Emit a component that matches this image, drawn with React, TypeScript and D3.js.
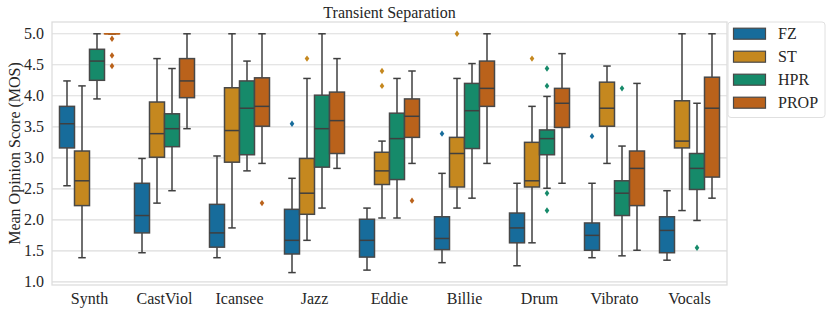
import React from 'react';
import * as d3 from 'd3';

// categories and series
const categories = ['Synth', 'CastViol', 'Icansee', 'Jazz', 'Eddie', 'Billie', 'Drum', 'Vibrato', 'Vocals'];
const seriesNames = ['FZ', 'ST', 'HPR', 'PROP'];
const seriesColors = ['#176c9b', '#c5881f', '#168a6a', '#ba621b'];

// [lower whisker, q1, median, q3, upper whisker] per category
const FZ = [
  [2.55, 3.16, 3.55, 3.83, 4.24],
  [1.47, 1.79, 2.07, 2.59, 2.99],
  [1.39, 1.56, 1.79, 2.25, 3.03],
  [1.15, 1.45, 1.67, 2.17, 2.67],
  [1.19, 1.40, 1.67, 2.01, 2.19],
  [1.31, 1.52, 1.70, 2.05, 2.75],
  [1.26, 1.63, 1.87, 2.11, 2.59],
  [1.39, 1.51, 1.75, 1.95, 2.59],
  [1.35, 1.47, 1.83, 2.05, 2.47],
];
const ST = [
  [1.39, 2.23, 2.63, 3.11, 4.16],
  [2.27, 3.01, 3.39, 3.90, 4.60],
  [1.87, 2.93, 3.44, 4.13, 5.0],
  [1.67, 2.09, 2.43, 2.99, 4.28],
  [2.03, 2.57, 2.79, 3.09, 3.27],
  [2.19, 2.53, 3.07, 3.33, 4.28],
  [1.63, 2.53, 2.63, 3.25, 3.83],
  [2.91, 3.51, 3.80, 4.22, 4.48],
  [2.15, 3.16, 3.27, 3.92, 5.0],
];
const HPR = [
  [3.95, 4.25, 4.56, 4.75, 5.0],
  [2.47, 3.18, 3.47, 3.71, 4.44],
  [2.79, 3.05, 3.80, 4.24, 4.56],
  [2.19, 2.85, 3.47, 4.01, 5.0],
  [2.03, 2.65, 3.31, 3.72, 4.28],
  [2.35, 3.15, 3.76, 4.20, 4.52],
  [2.51, 3.05, 3.31, 3.45, 3.99],
  [1.42, 2.07, 2.43, 2.63, 3.19],
  [1.99, 2.49, 2.83, 3.07, 3.88],
];
const PROP = [
  [5.0, 5.0, 5.0, 5.0, 5.0],
  [3.47, 3.97, 4.24, 4.60, 5.0],
  [2.91, 3.51, 3.83, 4.29, 5.0],
  [2.83, 3.07, 3.60, 4.06, 4.60],
  [2.91, 3.33, 3.67, 3.95, 4.40],
  [2.91, 3.83, 4.12, 4.56, 5.0],
  [2.59, 3.49, 3.88, 4.12, 4.68],
  [1.51, 2.23, 2.83, 3.11, 4.20],
  [2.35, 2.69, 3.80, 4.30, 5.0],
];

// outliers per category
const FZout = [[], [], [], [3.55], [], [3.39], [], [3.35], []];
const STout = [[], [], [], [4.60], [4.40, 4.16], [5.0], [4.60], [], []];
const HPRout = [[], [], [], [], [], [], [4.44, 4.16, 2.43, 2.15], [4.12], [1.55]];
const PROPout = [[4.92, 4.65, 4.48], [], [2.27], [], [2.31], [], [], [], []];

const yTicks = [1.0, 1.5, 2.0, 2.5, 3.0, 3.5, 4.0, 4.5, 5.0];

const stats = [FZ, ST, HPR, PROP];
const outliers = [FZout, STout, HPRout, PROPout];

const W = 831;
const H = 313;
const left = 52, right = 727, top = 22, bottom = 285;
const font = '"Liberation Serif", "Times New Roman", serif';
const lineColor = '#3f3f3f';
const fs = 16;

export default function App() {
  const x = d3.scaleBand().domain(categories).range([left, right]);
  const inner = d3.scaleBand().domain(seriesNames).range([0, x.bandwidth() * 0.8]);
  const y = d3.scaleLinear().domain([0.95, 5.19]).range([bottom, top]);
  const bw = inner.bandwidth();
  const capW = bw * 0.5;
  const off = x.bandwidth() * 0.1;

  return (
    <svg width={W} height={H} style={{ position: 'absolute', left: 0, top: 0, background: '#fff' }} fontFamily={font}>
      <rect x={left} y={top} width={right - left} height={bottom - top} fill="#fff" stroke="#dcdcdc" strokeWidth={1.25} />
      {yTicks.map(t => (
        <g key={t}>
          <line x1={left} x2={right} y1={y(t)} y2={y(t)} stroke="#dcdcdc" strokeWidth={1.1} />
          <text x={44} y={y(t)} dy="0.33em" textAnchor="end" fontSize={fs} fill="#262626">{d3.format('.1f')(t)}</text>
        </g>
      ))}
      {categories.map((c, ci) => (
        <g key={c}>
          {seriesNames.map((s, si) => {
            const [lo, q1, med, q3, hi] = stats[si][ci];
            const x0 = (x(c) as number) + off + (inner(s) as number);
            const cx = x0 + bw / 2;
            return (
              <g key={s}>
                <line x1={cx} x2={cx} y1={y(q3)} y2={y(hi)} stroke={lineColor} strokeWidth={1.5} />
                <line x1={cx} x2={cx} y1={y(q1)} y2={y(lo)} stroke={lineColor} strokeWidth={1.5} />
                <line x1={cx - capW / 2} x2={cx + capW / 2} y1={y(hi)} y2={y(hi)} stroke={lineColor} strokeWidth={1.5} />
                <line x1={cx - capW / 2} x2={cx + capW / 2} y1={y(lo)} y2={y(lo)} stroke={lineColor} strokeWidth={1.5} />
                <rect x={x0} y={y(q3)} width={bw} height={Math.max(0.01, y(q1) - y(q3))}
                  fill={seriesColors[si]} stroke={q1 === q3 ? seriesColors[si] : '#484848'} strokeWidth={1.5} />
                <line x1={x0} x2={x0 + bw} y1={y(med)} y2={y(med)} stroke={q1 === q3 ? seriesColors[si] : lineColor} strokeWidth={1.5} />
                {outliers[si][ci].map((o, oi) => (
                  <path key={oi} d={`M${cx},${y(o) - 3.2}L${cx + 2.3},${y(o)}L${cx},${y(o) + 3.2}L${cx - 2.3},${y(o)}Z`}
                    fill={seriesColors[si]} />
                ))}
              </g>
            );
          })}
          <text x={(x(c) as number) + x.bandwidth() / 2} y={303.5} textAnchor="middle" fontSize={fs} fill="#262626">{c}</text>
        </g>
      ))}
      <text x={(left + right) / 2} y={17.5} textAnchor="middle" fontSize={fs} fill="#262626">Transient Separation</text>
      <text transform={`translate(20,${(top + bottom) / 2}) rotate(-90)`} textAnchor="middle" fontSize={fs} fill="#262626">Mean Opinion Score (MOS)</text>
      <g>
        <rect x={728} y={22} width={97} height={95.5} rx={3} fill="#fff" stroke="#e0e0e0" strokeWidth={1} />
        {seriesNames.map((s, si) => (
          <g key={s} transform={`translate(0,${33.7 + si * 23})`}>
            <rect x={733.5} y={-5.5} width={32} height={11} fill={seriesColors[si]} stroke="#484848" strokeWidth={1.2} />
            <text x={778} y={0} dy="0.35em" fontSize={fs} fill="#262626">{s}</text>
          </g>
        ))}
      </g>
    </svg>
  );
}
